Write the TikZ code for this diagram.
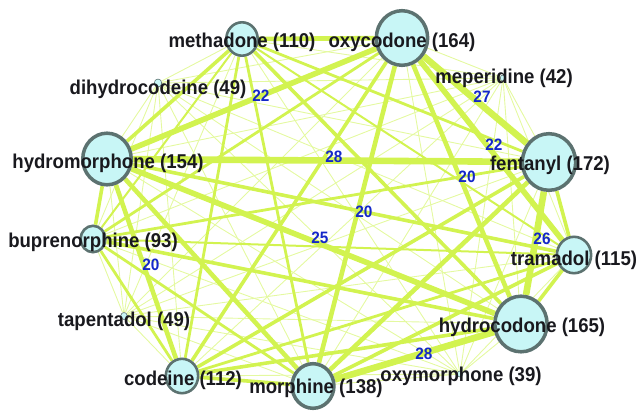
\documentclass[tikz,border=0pt]{standalone}
\usepackage{fontspec}
\newfontfamily\labfont{Liberation Sans}[FakeStretch=0.93]
\usetikzlibrary{backgrounds,shapes.geometric}
\definecolor{edgeC}{RGB}{210,243,80}
\definecolor{edgeL}{RGB}{228,249,160}
\definecolor{nodeF}{RGB}{200,246,246}
\definecolor{nodeB}{RGB}{92,114,112}
\definecolor{numC}{RGB}{20,40,200}
\definecolor{txtC}{RGB}{25,25,30}
\tikzset{
  drug/.style={ellipse, draw=nodeB, fill=nodeF, inner sep=0pt},
  rad/.style={minimum width={1.88*#1pt}, minimum height={2*#1pt}},
  bigb/.style={line width=3.5pt},
  midb/.style={line width=2.6pt},
  tinyb/.style={line width=0.6pt},
  lab/.style={font=\labfont\bfseries\fontsize{20}{24}\selectfont, text=txtC, inner sep=0pt},
  elab/.style={font=\labfont\bfseries\fontsize{16.5}{19}\selectfont, text=numC, inner sep=0pt},
  ethin/.style={draw=edgeL, line width=0.9pt},
  eA/.style={draw=edgeC, line width=2pt},
  eB/.style={draw=edgeC, line width=2.8pt},
  eC/.style={draw=edgeC, line width=3.6pt},
  eD/.style={draw=edgeC, line width=4.6pt},
  eE/.style={draw=edgeC, line width=5.6pt},
  eF/.style={draw=edgeC, line width=6.6pt},
}
\begin{document}
\begin{tikzpicture}[x=1pt,y=-1pt]
\useasboundingbox (0,0) rectangle (641,418);
% drug nodes
\node[drug,midb,rad=16.7] (me) at (242,39) {};
\node[drug,bigb,rad=27.3] (ox) at (402,38) {};
\node[drug,tinyb,rad=3] (mp) at (503,78) {};
\node[drug,bigb,rad=28.3] (fe) at (549,162) {};
\node[drug,midb,rad=18.2] (tr) at (574,255) {};
\node[drug,bigb,rad=27.8] (hc) at (521,324) {};
\node[drug,tinyb,rad=3] (om) at (460,374) {};
\node[drug,bigb,rad=22.3] (mo) at (313,386) {};
\node[drug,midb,rad=17.2] (co) at (182,376) {};
\node[drug,tinyb,rad=3.5] (ta) at (124,316) {};
\node[drug,midb,rad=13.2] (bu) at (93,239) {};
\node[drug,bigb,rad=25.8] (hm) at (107,159) {};
\node[drug,tinyb,rad=4] (dh) at (158,83) {};
% edges
\begin{scope}[on background layer]
\foreach \a/\b in {mp/me,mp/ox,mp/fe,mp/tr,mp/hc,mp/om,mp/mo,mp/co,mp/ta,mp/bu,mp/hm,mp/dh,
                   om/me,om/ox,om/fe,om/tr,om/hc,om/mo,om/co,om/ta,om/bu,om/hm,om/dh,
                   ta/me,ta/ox,ta/fe,ta/tr,ta/hc,ta/mo,ta/co,ta/bu,ta/hm,ta/dh,
                   dh/me,dh/ox,dh/fe,dh/tr,dh/hc,dh/mo,dh/co,dh/bu,dh/hm}
  \draw[ethin] (\a) -- (\b);
\foreach \a/\b in {me/tr,me/bu,bu/tr}
  \draw[eA] (\a) -- (\b);
\foreach \a/\b in {me/fe,me/mo,me/co,fe/bu,tr/co,mo/bu,co/bu,ox/bu}
  \draw[eB] (\a) -- (\b);
\foreach \a/\b in {me/hc,me/hm,ox/co,tr/mo,tr/hm,hc/bu,bu/hm,fe/tr,tr/hc,fe/co,hc/co,mo/co}
  \draw[eC] (\a) -- (\b);
\foreach \a/\b in {me/ox,fe/mo,mo/hm,ox/hc,ox/mo,co/hm}
  \draw[eD] (\a) -- (\b);
\foreach \a/\b in {ox/tr,ox/hm,hc/hm}
  \draw[eE] (\a) -- (\b);
\foreach \a/\b in {ox/fe,fe/hc,fe/hm,hc/mo}
  \draw[eF] (\a) -- (\b);
\end{scope}
% drug labels
\node[lab] (meL) at ([yshift=-3.5pt]me.center) {methadone (110)};
\node[lab] (oxL) at ([yshift=-4pt]ox.center) {oxycodone (164)};
\node[lab] (mpL) at ([xshift=1pt]mp.center) {meperidine (42)};
\node[lab] (feL) at ([xshift=1pt,yshift=-3pt]fe.center) {fentanyl (172)};
\node[lab] (trL) at ([yshift=-5pt]tr.center) {tramadol (115)};
\node[lab] (hcL) at ([xshift=1pt,yshift=-3pt]hc.center) {hydrocodone (165)};
\node[lab] (omL) at ([xshift=1pt,yshift=-2pt]om.center) {oxymorphone (39)};
\node[lab] (moL) at ([xshift=3pt,yshift=-2pt]mo.center) {morphine (138)};
\node[lab] (coL) at ([xshift=1pt,yshift=-4pt]co.center) {codeine (112)};
\node[lab] (taL) at ([yshift=-5pt]ta.center) {tapentadol (49)};
\node[lab] (buL) at ([yshift=-3pt]bu.center) {buprenorphine (93)};
\node[lab] (hmL) at ([xshift=1pt,yshift=-4pt]hm.center) {hydromorphone (154)};
\node[lab] (dhL) at ([yshift=-6pt]dh.center) {dihydrocodeine (49)};
% edge weight labels
\node[elab] (w1) at (261,96) {22};
\node[elab] (w2) at (482,97) {27};
\node[elab] (w3) at (494,145) {22};
\node[elab] (w4) at (334,157) {28};
\node[elab] (w5) at (467,177) {20};
\node[elab] (w6) at (364,212) {20};
\node[elab] (w7) at (320,238) {25};
\node[elab] (w8) at (542,239) {26};
\node[elab] (w9) at (151,265) {20};
\node[elab] (w10) at (424,354) {28};
\end{tikzpicture}
\end{document}
